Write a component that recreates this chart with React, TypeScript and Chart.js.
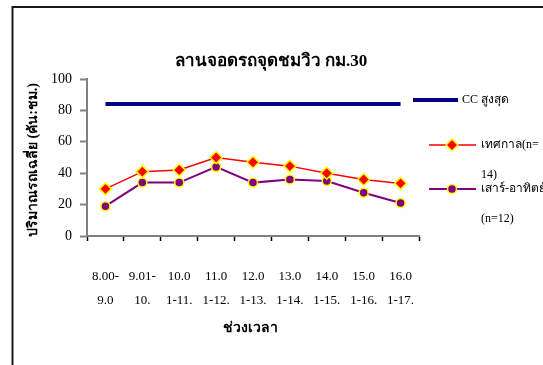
import React, { useEffect, useRef } from "react";
import { Chart, registerables } from "chart.js";

Chart.register(...registerables);

// Time slots (two-line tick labels)
const timeSlots: string[][] = [
  ["8.00-", "9.0"],
  ["9.01-", "10."],
  ["10.0", "1-11."],
  ["11.0", "1-12."],
  ["12.0", "1-13."],
  ["13.0", "1-14."],
  ["14.0", "1-15."],
  ["15.0", "1-16."],
  ["16.0", "1-17."],
];

// Maximum capacity (vehicles per hour)
const capacityMax: number[] = [84, 84, 84, 84, 84, 84, 84, 84, 84];
// Festival days average (n=14)
const festivalAvg: number[] = [30, 41, 42, 50, 47, 44.5, 40, 36, 33.5];
// Weekend average (n=12)
const weekendAvg: number[] = [19, 34, 34, 44, 34, 36, 35, 27.5, 21];

const yTicks: number[] = [0, 20, 40, 60, 80, 100];

const chartTitle = "ลานจอดรถจุดชมวิว กม.30";
const yTitle = "ปริมาณรถเฉลี่ย (คัน:ชม.)";
const xTitle = "ช่วงเวลา";
const legendCC = ["CC สูงสุด"];
const legendFestival = ["เทศกาล(n=", "14)"];
const legendWeekend = ["เสาร์-อาทิตย์", "(n=12)"];

const SERIF = '"Liberation Serif", "Times New Roman", serif';
const NAVY = "#000080";
const RED = "#FF0000";
const PURPLE = "#800080";
const YELLOW = "#FFFF00";

const decorPlugin = {
  id: "decor",
  afterDraw(chart: any) {
    const ctx: CanvasRenderingContext2D = chart.ctx;
    ctx.save();

    // frame (top and left edges visible)
    ctx.strokeStyle = "#1a1a1a";
    ctx.lineWidth = 2;
    ctx.beginPath();
    ctx.moveTo(12.5, 400);
    ctx.lineTo(12.5, 7);
    ctx.lineTo(600, 7);
    ctx.stroke();

    // title
    ctx.fillStyle = "#000";
    ctx.textAlign = "center";
    ctx.textBaseline = "middle";
    ctx.font = `bold 17px ${SERIF}`;
    ctx.fillText(chartTitle, 271, 62);

    // x axis title
    ctx.font = `bold 14px ${SERIF}`;
    ctx.fillText(xTitle, 250, 328);

    // y axis title
    ctx.save();
    ctx.translate(33, 160);
    ctx.rotate(-Math.PI / 2);
    ctx.fillText(yTitle, 0, 0);
    ctx.restore();

    // legend
    ctx.textAlign = "left";
    ctx.font = `12px ${SERIF}`;

    ctx.strokeStyle = NAVY;
    ctx.lineWidth = 4;
    ctx.beginPath();
    ctx.moveTo(413, 100);
    ctx.lineTo(458, 100);
    ctx.stroke();
    ctx.fillText(legendCC[0], 462, 100);

    ctx.strokeStyle = RED;
    ctx.lineWidth = 1.5;
    ctx.beginPath();
    ctx.moveTo(429, 145);
    ctx.lineTo(476, 145);
    ctx.stroke();
    ctx.fillStyle = RED;
    ctx.strokeStyle = YELLOW;
    ctx.lineWidth = 1.5;
    ctx.beginPath();
    ctx.moveTo(452, 139);
    ctx.lineTo(458, 145);
    ctx.lineTo(452, 151);
    ctx.lineTo(446, 145);
    ctx.closePath();
    ctx.fill();
    ctx.stroke();
    ctx.fillStyle = "#000";
    ctx.fillText(legendFestival[0], 481, 145);
    ctx.fillText(legendFestival[1], 481, 175);

    ctx.strokeStyle = PURPLE;
    ctx.lineWidth = 2;
    ctx.beginPath();
    ctx.moveTo(429, 189);
    ctx.lineTo(476, 189);
    ctx.stroke();
    ctx.fillStyle = PURPLE;
    ctx.strokeStyle = YELLOW;
    ctx.lineWidth = 1.5;
    ctx.beginPath();
    ctx.arc(452, 189, 4.5, 0, Math.PI * 2);
    ctx.fill();
    ctx.stroke();
    ctx.fillStyle = "#000";
    ctx.fillText(legendWeekend[0], 481, 189);
    ctx.fillText(legendWeekend[1], 481, 219);

    ctx.restore();
  },
};

export default function App() {
  const canvasRef = useRef<HTMLCanvasElement | null>(null);

  useEffect(() => {
    const canvas = canvasRef.current;
    if (!canvas) return;
    const chart = new Chart(canvas, {
      type: "line",
      data: {
        labels: timeSlots,
        datasets: [
          {
            label: legendCC.join(""),
            data: capacityMax,
            borderColor: NAVY,
            borderWidth: 4,
            pointRadius: 0,
            tension: 0,
          },
          {
            label: legendFestival.join(""),
            data: festivalAvg,
            borderColor: RED,
            borderWidth: 1.5,
            pointStyle: "rectRot",
            pointRadius: 6,
            pointBackgroundColor: RED,
            pointBorderColor: YELLOW,
            pointBorderWidth: 1.5,
            tension: 0,
          },
          {
            label: legendWeekend.join(""),
            data: weekendAvg,
            borderColor: PURPLE,
            borderWidth: 2,
            pointStyle: "circle",
            pointRadius: 4.5,
            pointBackgroundColor: PURPLE,
            pointBorderColor: YELLOW,
            pointBorderWidth: 1.5,
            tension: 0,
          },
        ],
      },
      options: {
        responsive: false,
        animation: false,
        events: [],
        layout: { padding: { left: 40, top: 79, right: 124, bottom: 0 } },
        plugins: {
          legend: { display: false },
          title: { display: false },
          tooltip: { enabled: false },
        },
        scales: {
          x: {
            type: "category",
            offset: true,
            afterFit(scale: any) {
              scale.height = 129;
            },
            grid: {
              offset: true,
              drawOnChartArea: false,
              drawTicks: true,
              tickLength: 5,
              tickColor: "#000",
              tickWidth: 1.5,
            },
            border: { color: "#808080", width: 2 },
            ticks: {
              autoSkip: false,
              maxRotation: 0,
              minRotation: 0,
              padding: 24,
              color: "#000",
              font: { family: SERIF, size: 13, lineHeight: 1.85 },
            },
          },
          y: {
            min: 0,
            max: 100,
            afterFit(scale: any) {
              scale.width = 47;
            },
            afterBuildTicks(scale: any) {
              scale.ticks = yTicks.map((v) => ({ value: v }));
            },
            grid: {
              drawOnChartArea: false,
              drawTicks: true,
              tickLength: 7,
              tickColor: "#808080",
              tickWidth: 2,
            },
            border: { color: "#808080", width: 2 },
            ticks: {
              padding: 8,
              color: "#000",
              font: { family: SERIF, size: 14 },
            },
          },
        },
      },
      plugins: [decorPlugin],
    });
    return () => chart.destroy();
  }, []);

  return (
    <div
      style={{
        position: "absolute",
        left: 0,
        top: 0,
        width: 543,
        height: 365,
        background: "#fff",
      }}
    >
      <canvas ref={canvasRef} width={543} height={365} />
    </div>
  );
}
